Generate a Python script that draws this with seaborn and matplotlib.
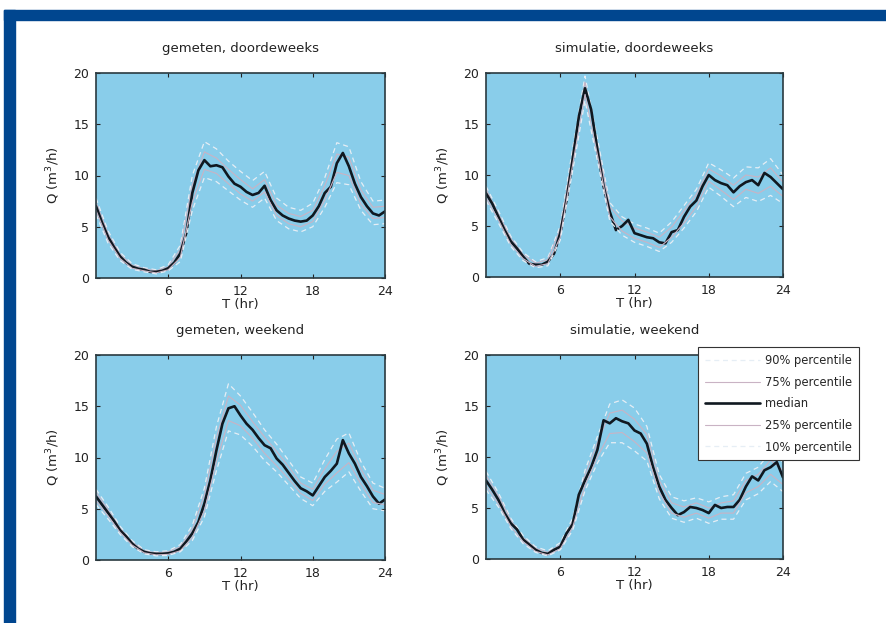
import numpy as np
import pandas as pd
import seaborn as sns
import matplotlib.pyplot as plt
from matplotlib.patches import Rectangle

# half-hour grid for the median, hourly grid for the percentile bands
t_half = np.arange(0, 24.01, 0.5)
t_hour = np.arange(0, 25, 1)

titles = ["gemeten, doordeweeks", "simulatie, doordeweeks",
          "gemeten, weekend", "simulatie, weekend"]
xtick_vals = [6, 12, 18, 24]
ytick_vals = [0, 5, 10, 15, 20]
legend_labels = ["90% percentile", "75% percentile", "median",
                 "25% percentile", "10% percentile"]

# gemeten, doordeweeks
med_gd = [7.0, 5.4, 4.0, 3.0, 2.1, 1.5, 1.1, 0.9, 0.8, 0.6, 0.6, 0.7, 0.95, 1.5, 2.4, 4.4,
          8.3, 10.5, 11.5, 10.9, 11.0, 10.8, 9.9, 9.2, 8.9, 8.4, 8.1, 8.3, 9.0, 7.6, 6.6,
          6.1, 5.8, 5.6, 5.5, 5.6, 6.1, 7.0, 8.3, 8.9, 11.2, 12.2, 10.9, 9.2, 7.9, 7.0, 6.3,
          6.1, 6.5]
p90_gd = [7.8, 4.6, 2.5, 1.4, 1.0, 0.8, 1.3, 3.2, 10.0, 13.3, 12.6, 11.4, 10.4, 9.5, 10.4,
          7.8, 6.9, 6.6, 7.3, 9.8, 13.2, 12.8, 9.4, 7.5, 7.6]
p75_gd = [7.4, 4.3, 2.3, 1.25, 0.9, 0.7, 1.1, 2.8, 9.1, 12.3, 11.7, 10.6, 9.6, 8.7, 9.6,
          7.1, 6.3, 6.0, 6.6, 9.0, 12.1, 11.8, 8.6, 6.9, 7.0]
p25_gd = [6.6, 3.7, 1.9, 0.95, 0.7, 0.5, 0.8, 2.0, 7.4, 10.6, 10.2, 9.2, 8.2, 7.5, 8.4,
          6.1, 5.3, 5.0, 5.5, 7.6, 10.3, 10.0, 7.2, 5.8, 5.9]
p10_gd = [6.2, 3.4, 1.7, 0.85, 0.6, 0.4, 0.7, 1.6, 6.6, 9.8, 9.4, 8.5, 7.6, 6.9, 7.8,
          5.6, 4.8, 4.5, 5.0, 6.9, 9.3, 9.1, 6.6, 5.2, 5.3]

# simulatie, doordeweeks
med_sd = [8.2, 7.2, 5.9, 4.6, 3.5, 2.8, 2.0, 1.3, 1.2, 1.2, 1.5, 2.3, 4.3, 7.5, 11.5, 15.7,
          18.5, 16.4, 12.5, 8.9, 6.4, 4.6, 5.0, 5.6, 4.3, 4.1, 3.9, 3.8, 3.4, 3.3, 4.4,
          4.6, 5.9, 6.9, 7.5, 8.9, 10.0, 9.5, 9.2, 9.0, 8.3, 8.9, 9.3, 9.5, 9.0, 10.2, 9.8,
          9.2, 8.6]
p90_sd = [8.9, 6.5, 4.0, 2.4, 1.5, 1.9, 5.0, 12.6, 19.7, 13.6, 7.3, 5.9, 5.2, 4.8, 4.3,
          5.4, 7.0, 8.6, 11.2, 10.5, 9.7, 10.8, 10.7, 11.6, 10.0]
p75_sd = [8.6, 6.2, 3.8, 2.2, 1.35, 1.7, 4.7, 12.0, 19.1, 13.0, 6.9, 5.5, 4.8, 4.4, 3.9,
          4.9, 6.5, 8.1, 10.6, 9.9, 9.0, 10.0, 9.8, 10.7, 9.3]
p25_sd = [7.8, 5.6, 3.2, 1.8, 1.05, 1.3, 3.9, 11.0, 17.9, 12.0, 5.9, 4.5, 3.8, 3.4, 2.9,
          3.9, 5.3, 6.9, 9.4, 8.5, 7.6, 8.6, 8.2, 8.9, 7.9]
p10_sd = [7.5, 5.3, 3.0, 1.6, 0.9, 1.1, 3.6, 10.4, 17.3, 11.4, 5.5, 4.1, 3.4, 3.0, 2.5,
          3.4, 4.8, 6.4, 8.8, 7.9, 6.9, 7.8, 7.4, 8.0, 7.2]

# gemeten, weekend
med_gw = [6.2, 5.4, 4.6, 3.8, 2.9, 2.3, 1.6, 1.1, 0.8, 0.65, 0.6, 0.6, 0.65, 0.8, 1.1, 1.8,
          2.6, 3.7, 5.5, 7.8, 10.7, 13.3, 14.8, 15.0, 14.1, 13.3, 12.7, 11.9, 11.2, 10.9,
          9.9, 9.3, 8.5, 7.7, 7.0, 6.7, 6.3, 7.2, 8.1, 8.7, 9.4, 11.7, 10.4, 9.4, 8.1, 7.2,
          6.2, 5.5, 5.9]
p90_gw = [6.9, 5.2, 3.3, 1.9, 1.0, 0.8, 0.9, 1.5, 3.4, 7.0, 13.0, 17.2, 16.0, 14.4, 12.7,
          11.3, 9.7, 8.1, 7.5, 9.8, 11.8, 12.4, 9.6, 7.5, 7.0]
p75_gw = [6.6, 4.9, 3.1, 1.75, 0.9, 0.7, 0.8, 1.3, 3.0, 6.3, 11.9, 16.0, 15.1, 13.5, 12.0,
          10.6, 9.1, 7.5, 6.9, 8.9, 10.6, 11.4, 8.9, 6.8, 6.4]
p25_gw = [5.8, 4.3, 2.7, 1.45, 0.7, 0.5, 0.55, 0.9, 2.2, 4.8, 9.6, 13.6, 13.1, 11.9, 10.4,
          9.2, 7.9, 6.5, 5.8, 7.4, 8.5, 9.5, 7.4, 5.6, 5.4]
p10_gw = [5.4, 4.0, 2.5, 1.3, 0.6, 0.4, 0.45, 0.8, 1.9, 4.2, 8.7, 12.6, 12.2, 11.1, 9.7,
          8.6, 7.3, 6.0, 5.3, 6.7, 7.6, 8.6, 6.7, 5.0, 4.8]

# simulatie, weekend
med_sw = [7.7, 6.8, 5.8, 4.5, 3.5, 2.9, 1.9, 1.4, 0.9, 0.6, 0.5, 0.9, 1.2, 2.5, 3.4, 6.3,
          7.7, 9.0, 10.7, 13.6, 13.3, 13.8, 13.5, 13.3, 12.6, 12.3, 11.3, 9.0, 7.1, 5.8,
          5.0, 4.3, 4.6, 5.1, 5.0, 4.8, 4.5, 5.3, 5.0, 5.1, 5.1, 5.8, 7.1, 8.1, 7.7, 8.7,
          9.0, 9.5, 8.0]
p90_sw = [8.6, 6.5, 4.0, 2.3, 1.2, 0.8, 1.6, 4.0, 8.7, 12.0, 15.2, 15.6, 14.8, 13.0, 8.3,
          6.1, 5.7, 6.0, 5.6, 6.1, 6.3, 8.4, 9.0, 10.5, 9.5]
p75_sw = [8.2, 6.2, 3.8, 2.1, 1.05, 0.65, 1.4, 3.7, 8.2, 11.4, 14.3, 14.6, 13.7, 12.2, 7.7,
          5.5, 5.1, 5.5, 5.0, 5.5, 5.7, 7.7, 8.3, 9.7, 8.7]
p25_sw = [7.2, 5.4, 3.2, 1.7, 0.75, 0.4, 1.0, 3.1, 7.2, 10.0, 12.3, 12.4, 11.5, 10.4, 6.5,
          4.5, 4.1, 4.5, 4.0, 4.5, 4.5, 6.5, 7.1, 8.3, 7.3]
p10_sw = [6.8, 5.1, 3.0, 1.5, 0.65, 0.3, 0.9, 2.8, 6.7, 9.4, 11.4, 11.4, 10.6, 9.6, 5.9,
          4.0, 3.6, 4.0, 3.5, 3.9, 3.9, 5.8, 6.4, 7.6, 6.6]

panels = [
    (med_gd, p90_gd, p75_gd, p25_gd, p10_gd),
    (med_sd, p90_sd, p75_sd, p25_sd, p10_sd),
    (med_gw, p90_gw, p75_gw, p25_gw, p10_gw),
    (med_sw, p90_sw, p75_sw, p25_sw, p10_sw),
]

sns.set_style("ticks")
plt.rcParams["font.family"] = ["DejaVu Sans"]

fig = plt.figure(figsize=(8.86, 6.23), dpi=100)
fig.patch.set_facecolor("white")

# dark blue frame along top and left edge
frame_col = "#00468f"
fig.patches.append(Rectangle((4 / 886, 1 - 20 / 623), 1, 10 / 623,
                             transform=fig.transFigure, color=frame_col, zorder=0))
fig.patches.append(Rectangle((4 / 886, 0), 11 / 886, 1 - 10 / 623,
                             transform=fig.transFigure, color=frame_col, zorder=0))

# axes boxes in pixels: left, top, right, bottom
boxes = [(96, 73, 385, 278), (486, 73, 783, 277),
         (96, 355, 385, 560), (486, 355, 783, 559)]

band_style = {
    "p90": dict(color="#e6eef5", linewidth=0.9, linestyle=(0, (4, 3))),
    "p75": dict(color="#c9b3c4", linewidth=0.8, linestyle="-"),
    "p25": dict(color="#c9b3c4", linewidth=0.8, linestyle="-"),
    "p10": dict(color="#e6eef5", linewidth=0.9, linestyle=(0, (4, 3))),
}

axes = []
for i, (box, title, series) in enumerate(zip(boxes, titles, panels)):
    l, t, r, b = box
    ax = fig.add_axes([l / 886, 1 - b / 623, (r - l) / 886, (b - t) / 623])
    ax.set_facecolor("#89cdea")
    med, p90, p75, p25, p10 = series

    sns.lineplot(x=t_hour, y=p90, ax=ax, label=legend_labels[0], **band_style["p90"])
    sns.lineplot(x=t_hour, y=p75, ax=ax, label=legend_labels[1], **band_style["p75"])
    sns.lineplot(x=t_half, y=med, ax=ax, color="#101820", linewidth=1.9,
                 label=legend_labels[2])
    sns.lineplot(x=t_hour, y=p25, ax=ax, label=legend_labels[3], **band_style["p25"])
    sns.lineplot(x=t_hour, y=p10, ax=ax, label=legend_labels[4], **band_style["p10"])

    ax.set_xlim(0, 24)
    ax.set_ylim(0, 20)
    ax.set_xticks(xtick_vals)
    ax.set_yticks(ytick_vals)
    ax.tick_params(direction="in", length=3, width=0.8, top=True, right=True,
                   labelsize=9, pad=5, colors="#222222")
    for sp in ax.spines.values():
        sp.set_color("#2a3a40")
        sp.set_linewidth(1.2)
    ax.set_title(title, fontsize=9.5, pad=15, color="#222222")
    ax.set_xlabel("T (hr)", fontsize=9.5, labelpad=0, color="#222222")
    ax.set_ylabel("Q (m$^3$/h)", fontsize=9.5, labelpad=8, color="#222222")
    ax.get_legend().remove()
    axes.append(ax)

handles, labels = axes[3].get_legend_handles_labels()
leg = fig.legend(handles, labels, loc="upper left",
                 bbox_to_anchor=(698 / 886, 1 - 347 / 623), borderaxespad=0,
                 fontsize=8.3, frameon=True, fancybox=False, framealpha=1,
                 edgecolor="#333333", handlelength=4.8, labelspacing=0.75,
                 borderpad=0.6, handletextpad=0.4)
leg.get_frame().set_linewidth(0.8)

fig.savefig("out.png", dpi=100)
